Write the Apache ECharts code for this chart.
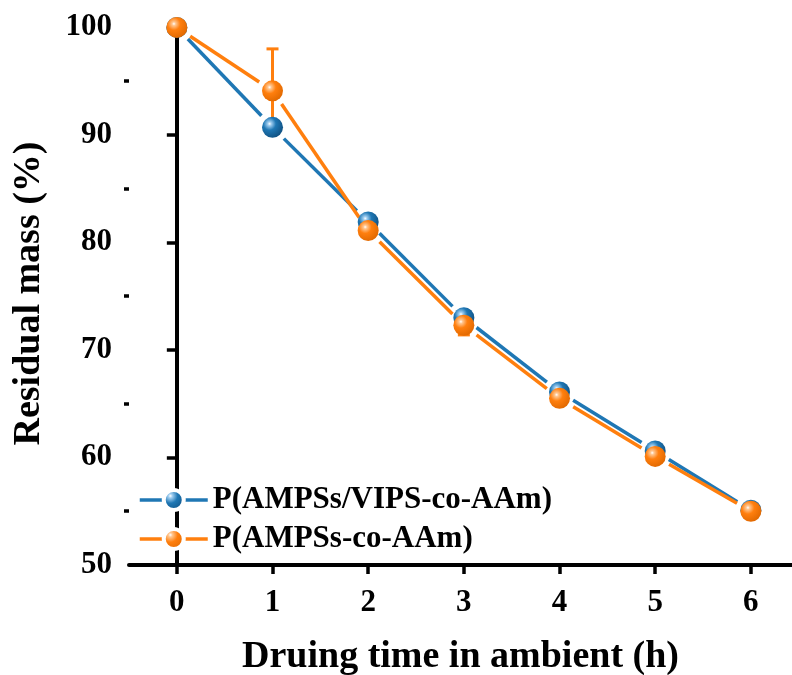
<!DOCTYPE html>
<html>
<head>
<meta charset="utf-8">
<script src="https://cdn.jsdelivr.net/npm/echarts@6/dist/echarts.min.js"></script>
<style>html,body{margin:0;padding:0;background:#fff;}#c{width:792px;height:675px;}</style>
</head>
<body>
<div id="c"></div>
<script>
// ---- data ----
var hours = [0, 1, 2, 3, 4, 5, 6];
var seriesNames = ['P(AMPSs/VIPS-co-AAm)', 'P(AMPSs-co-AAm)'];
var massA = [100, 90.7, 81.9, 73.0, 66.1, 60.6, 55.1];   // P(AMPSs/VIPS-co-AAm)
var errA  = [0, 0.3, 0.6, 0.6, 0.4, 0.2, 0.1];
var massB = [100, 94.1, 81.1, 72.3, 65.5, 60.1, 55.0];   // P(AMPSs-co-AAm)
var errB  = [0, 3.9, 0.6, 0.9, 0.4, 0.3, 0.1];
var xTicks = [0, 1, 2, 3, 4, 5, 6];
var yTicks = [50, 60, 70, 80, 90, 100];
var yMinorTicks = [55, 65, 75, 85, 95];

var FONT = '"Liberation Serif", "Times New Roman", serif';
var BLUE = '#1f77b4', ORANGE = '#ff7f0e';

function sphere(base, light, dark) {
  return new echarts.graphic.RadialGradient(0.36, 0.33, 0.72, [
    {offset: 0, color: '#ffffff'},
    {offset: 0.12, color: light},
    {offset: 0.42, color: base},
    {offset: 1, color: dark}
  ]);
}

function segments(vals) {
  var out = [];
  for (var i = 0; i < hours.length - 1; i++) out.push([hours[i], vals[i], hours[i + 1], vals[i + 1]]);
  return out;
}
function errData(vals, errs) {
  return hours.map(function (h, i) { return [h, vals[i], errs[i]]; });
}

function segRender(color) {
  return function (params, api) {
    var p0 = api.coord([api.value(0), api.value(1)]);
    var p1 = api.coord([api.value(2), api.value(3)]);
    var dx = p1[0] - p0[0], dy = p1[1] - p0[1];
    var len = Math.sqrt(dx * dx + dy * dy);
    var g = 16;
    if (len <= 2 * g) return null;
    var ux = dx / len, uy = dy / len;
    return {
      type: 'line',
      shape: {x1: p0[0] + ux * g, y1: p0[1] + uy * g, x2: p1[0] - ux * g, y2: p1[1] - uy * g},
      style: {stroke: color, lineWidth: 3.5, fill: null}
    };
  };
}
function errRender(color) {
  return function (params, api) {
    var e = api.value(2);
    var top = api.coord([api.value(0), api.value(1) + e]);
    var bot = api.coord([api.value(0), api.value(1) - e]);
    var cap = 6;
    var st = {stroke: color, lineWidth: 3};
    return {
      type: 'group',
      children: [
        {type: 'line', shape: {x1: top[0], y1: top[1], x2: bot[0], y2: bot[1]}, style: st},
        {type: 'line', shape: {x1: top[0] - cap, y1: top[1], x2: top[0] + cap, y2: top[1]}, style: st},
        {type: 'line', shape: {x1: bot[0] - cap, y1: bot[1], x2: bot[0] + cap, y2: bot[1]}, style: st}
      ]
    };
  };
}

var chart = echarts.init(document.getElementById('c'), null, {renderer: 'canvas'});
var blueFill = sphere(BLUE, '#9fcdf0', '#0f4f80');
var orangeFill = sphere(ORANGE, '#ffc690', '#e06800');

chart.setOption({
  animation: false,
  backgroundColor: '#ffffff',
  grid: {left: 129, right: 0, top: 22, bottom: 110, containLabel: false, outerBoundsMode: 'none'},
  legend: {
    orient: 'vertical',
    left: 133,
    top: 479,
    itemWidth: 68,
    itemHeight: 25,
    itemGap: 7,
    textStyle: {fontFamily: FONT, fontWeight: 'bold', fontSize: 31, color: '#000', lineHeight: 32},
    data: [
      {name: seriesNames[0], lineStyle: {color: BLUE, width: 3.5, opacity: 1}, itemStyle: {borderColor: '#fff', borderWidth: 4}},
      {name: seriesNames[1], lineStyle: {color: ORANGE, width: 3.5, opacity: 1}, itemStyle: {borderColor: '#fff', borderWidth: 4}}
    ]
  },
  xAxis: {
    type: 'value',
    min: -0.5,
    max: 6.43,
    name: 'Druing time in ambient (h)',
    nameLocation: 'middle',
    nameGap: 73,
    nameTextStyle: {fontFamily: FONT, fontWeight: 'bold', fontSize: 38, color: '#000'},
    axisLine: {lineStyle: {color: '#000', width: 4}},
    axisTick: {customValues: xTicks, length: 9, lineStyle: {width: 3.5, color: '#000'}},
    axisLabel: {customValues: xTicks, fontFamily: FONT, fontWeight: 'bold', fontSize: 31, color: '#000', margin: 22},
    splitLine: {show: false}
  },
  yAxis: [{
    type: 'value',
    min: 50,
    max: 100.5,
    position: 'left',
    name: 'Residual mass (%)',
    nameLocation: 'middle',
    nameGap: 81,
    nameTextStyle: {fontFamily: FONT, fontWeight: 'bold', fontSize: 38, color: '#000'},
    axisLine: {show: true, lineStyle: {color: '#000', width: 4}},
    axisTick: {show: true, customValues: yTicks, length: 10, lineStyle: {width: 3.5, color: '#000'}},
    axisLabel: {customValues: yTicks, fontFamily: FONT, fontWeight: 'bold', fontSize: 31, color: '#000', margin: 17},
    splitLine: {show: false}
  }, {
    type: 'value',
    min: 50,
    max: 100.5,
    position: 'left',
    axisLine: {show: false},
    axisTick: {show: true, customValues: yMinorTicks, length: 5, lineStyle: {width: 3.5, color: '#000'}},
    axisLabel: {show: false},
    splitLine: {show: false}
  }],
  series: [
    {
      name: seriesNames[0] + ' line',
      type: 'custom',
      renderItem: segRender(BLUE),
      data: segments(massA),
      encode: {x: [0, 2], y: [1, 3]},
      silent: true
    },
    {
      name: seriesNames[0],
      type: 'line',
      data: hours.map(function (h, i) { return [h, massA[i]]; }),
      symbol: 'circle',
      symbolSize: 21,
      showAllSymbol: true,
      lineStyle: {width: 0, color: 'rgba(0,0,0,0)'},
      itemStyle: {color: blueFill, opacity: 1}
    },
    {
      name: seriesNames[1] + ' line',
      type: 'custom',
      renderItem: segRender(ORANGE),
      data: segments(massB),
      encode: {x: [0, 2], y: [1, 3]},
      silent: true
    },
    {
      name: seriesNames[1],
      type: 'line',
      data: hours.map(function (h, i) { return [h, massB[i]]; }),
      symbol: 'circle',
      symbolSize: 21,
      showAllSymbol: true,
      lineStyle: {width: 0, color: 'rgba(0,0,0,0)'},
      itemStyle: {color: orangeFill, opacity: 1}
    },
    {
      name: 'errA',
      type: 'custom',
      renderItem: errRender(BLUE),
      data: errData(massA, errA),
      encode: {x: 0, y: 1},
      silent: true
    },
    {
      name: 'errB',
      type: 'custom',
      renderItem: errRender(ORANGE),
      data: errData(massB, errB),
      encode: {x: 0, y: 1},
      silent: true
    }
  ]
});
</script>
</body>
</html>
